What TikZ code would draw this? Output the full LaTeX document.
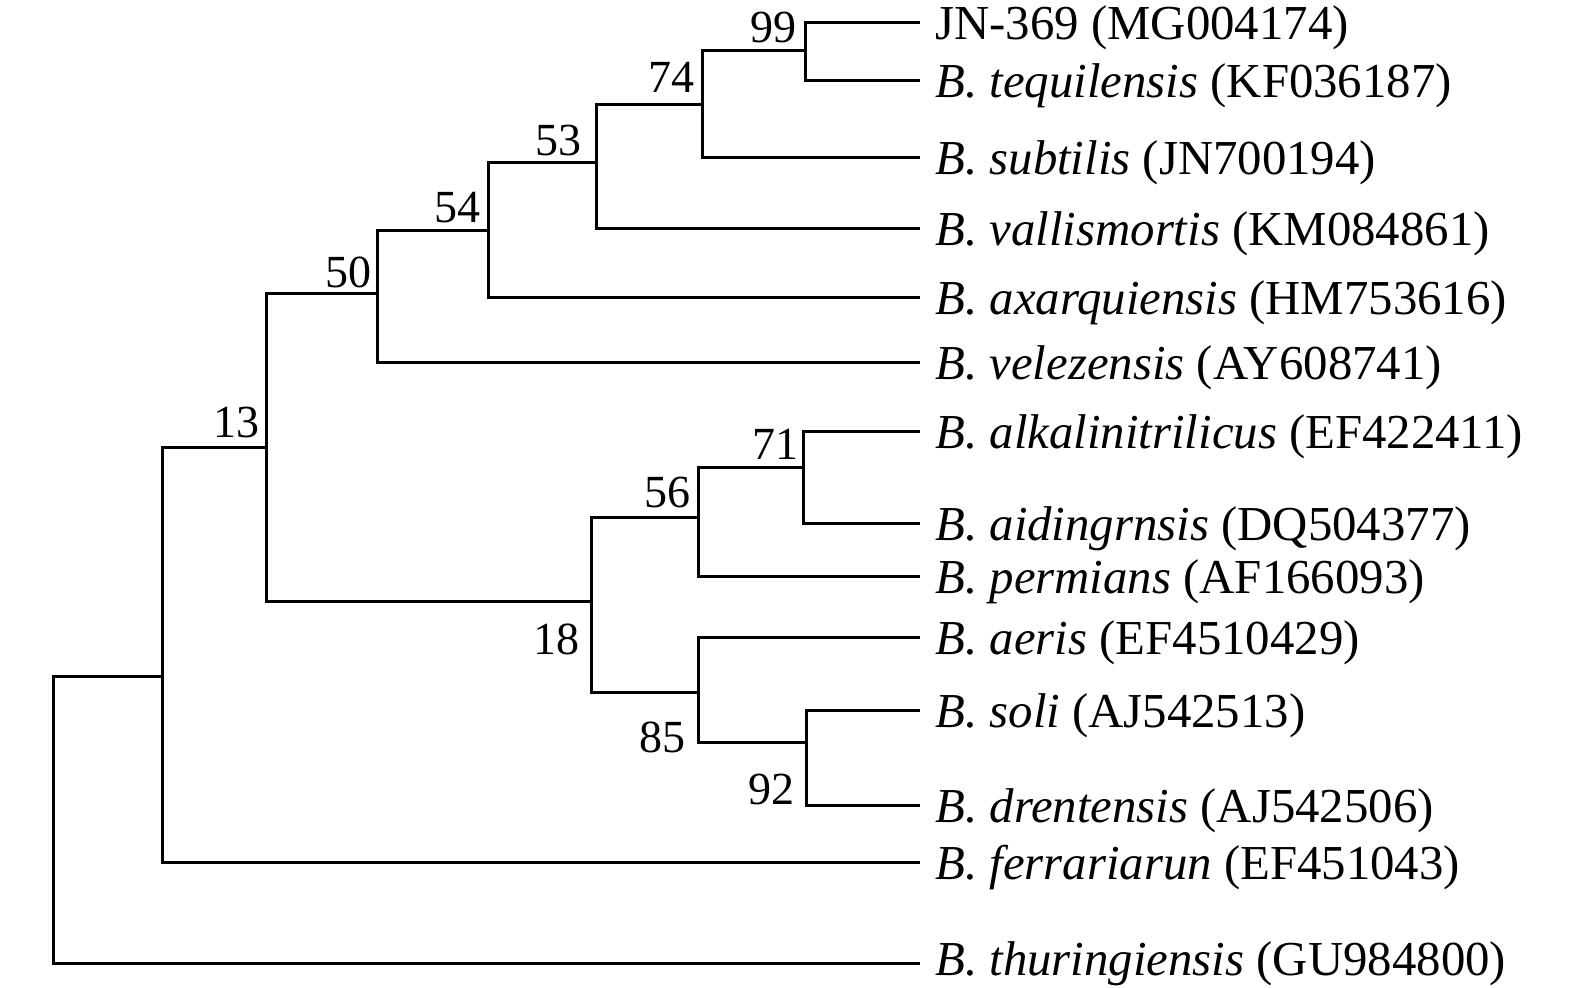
\documentclass[tikz,border=0pt]{standalone}
\usepackage{fontspec}
\setmainfont{Liberation Serif}
\begin{document}
\begin{tikzpicture}[x=0.5pt,y=-0.5pt,
  branch/.style={line width=1.5pt,line join=miter},
  leaf/.style={anchor=west,inner xsep=7.5pt,inner ysep=0pt,text height=17pt,text depth=0pt,font=\fontsize{24.4}{28}\selectfont},
  boot/.style={anchor=base east,inner sep=0pt,font=\fontsize{23}{27}\selectfont}]
\useasboundingbox (0,0) rectangle (1575,988);
% leaves
\node[leaf] (l1) at (920,23) {JN-369 (MG004174)};
\node[leaf] (l2) at (920,81) {\textit{B. tequilensis} (KF036187)};
\node[leaf] (l3) at (920,158) {\textit{B. subtilis} (JN700194)};
\node[leaf] (l4) at (920,229) {\textit{B. vallismortis} (KM084861)};
\node[leaf] (l5) at (920,298) {\textit{B. axarquiensis} (HM753616)};
\node[leaf] (l6) at (920,363) {\textit{B. velezensis} (AY608741)};
\node[leaf] (l7) at (920,432) {\textit{B. alkalinitrilicus} (EF422411)};
\node[leaf] (l8) at (920,524) {\textit{B. aidingrnsis} (DQ504377)};
\node[leaf] (l9) at (920,577) {\textit{B. permians} (AF166093)};
\node[leaf] (l10) at (920,638) {\textit{B. aeris} (EF4510429)};
\node[leaf] (l11) at (920,711) {\textit{B. soli} (AJ542513)};
\node[leaf] (l12) at (920,805) {\textit{B. drentensis} (AJ542506)};
\node[leaf] (l13) at (920,862) {\textit{B. ferrariarun} (EF451043)};
\node[leaf,text height=12pt] (l14) at (920,963) {\textit{B. thuringiensis} (GU984800)};
% internal nodes (x of vertical bar, y of incoming branch)
\coordinate (root) at (53,820);
\coordinate (nA) at (162,677);
\coordinate (n13) at (266,448);
\coordinate (n50) at (377,294);
\coordinate (n54) at (488,231);
\coordinate (n53) at (596,163);
\coordinate (n74) at (702,105);
\coordinate (n99) at (805,51);
\coordinate (n18) at (591,602);
\coordinate (n56) at (698,518);
\coordinate (n71) at (803,468);
\coordinate (n85) at (698,693);
\coordinate (n92) at (806,743);
% branches
\draw[branch] (root) |- (nA);
\draw[branch] (root) |- (l14);
\draw[branch] (nA) |- (n13);
\draw[branch] (nA) |- (l13);
\draw[branch] (n13) |- (n50);
\draw[branch] (n13) |- (n18);
\draw[branch] (n50) |- (n54);
\draw[branch] (n50) |- (l6);
\draw[branch] (n54) |- (n53);
\draw[branch] (n54) |- (l5);
\draw[branch] (n53) |- (n74);
\draw[branch] (n53) |- (l4);
\draw[branch] (n74) |- (n99);
\draw[branch] (n74) |- (l3);
\draw[branch] (n99) |- (l1);
\draw[branch] (n99) |- (l2);
\draw[branch] (n18) |- (n56);
\draw[branch] (n18) |- (n85);
\draw[branch] (n56) |- (n71);
\draw[branch] (n56) |- (l9);
\draw[branch] (n71) |- (l7);
\draw[branch] (n71) |- (l8);
\draw[branch] (n85) |- (l10);
\draw[branch] (n85) |- (n92);
\draw[branch] (n92) |- (l11);
\draw[branch] (n92) |- (l12);
% bootstrap values
\node[boot] (b99) at (797,43) {99};
\node[boot] (b74) at (695,93) {74};
\node[boot] (b53) at (582,156) {53};
\node[boot] (b54) at (481,223) {54};
\node[boot] (b50) at (372,288) {50};
\node[boot] (b13) at (260,438) {13};
\node[boot] (b18) at (580,655) {18};
\node[boot] (b56) at (691,508) {56};
\node[boot] (b71) at (799,460) {71};
\node[boot] (b85) at (686,753) {85};
\node[boot] (b92) at (795,805) {92};
\end{tikzpicture}
\end{document}
